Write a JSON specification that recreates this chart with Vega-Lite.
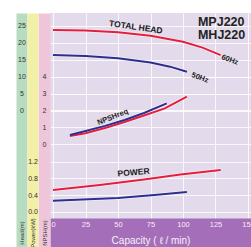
{
  "$schema": "https://vega.github.io/schema/vega-lite/v6.json",
  "autosize": {"type": "none"},
  "padding": {"left": 50, "top": 13, "right": 0, "bottom": 0},
  "width": 201,
  "height": 234,
  "background": "white",
  "config": {
    "view": {"fill": "#e3daeb", "stroke": null},
    "font": "Liberation Sans",
    "axis": {"ticks": false, "labelFontSize": 7, "titleFontWeight": "normal"},
    "axisLeft": {"labelColor": "#333333"},
    "axisBottom": {"labelColor": "#f4ecf6", "titleColor": "#f7f0f9"}
  },
  "datasets": {
    "head": [
      {"q": 0, "head": 23.7, "hz": "60Hz"}, {"q": 25, "head": 23.5, "hz": "60Hz"}, {"q": 50, "head": 23.0, "hz": "60Hz"}, {"q": 75, "head": 22.0, "hz": "60Hz"}, {"q": 100, "head": 20.2, "hz": "60Hz"}, {"q": 115, "head": 18.5, "hz": "60Hz"}, {"q": 129, "head": 16.3, "hz": "60Hz"},
      {"q": 0, "head": 16.3, "hz": "50Hz"}, {"q": 25, "head": 16.0, "hz": "50Hz"}, {"q": 50, "head": 15.4, "hz": "50Hz"}, {"q": 75, "head": 14.1, "hz": "50Hz"}, {"q": 90, "head": 12.9, "hz": "50Hz"}, {"q": 103, "head": 11.4, "hz": "50Hz"}
    ],
    "npsh": [
      {"q": 13, "npsh": 0.48, "hz": "60Hz"}, {"q": 25, "npsh": 0.64, "hz": "60Hz"}, {"q": 40, "npsh": 0.95, "hz": "60Hz"}, {"q": 55, "npsh": 1.31, "hz": "60Hz"}, {"q": 70, "npsh": 1.7, "hz": "60Hz"}, {"q": 86, "npsh": 2.12, "hz": "60Hz"}, {"q": 103, "npsh": 2.82, "hz": "60Hz"},
      {"q": 13, "npsh": 0.54, "hz": "50Hz"}, {"q": 25, "npsh": 0.77, "hz": "50Hz"}, {"q": 40, "npsh": 1.08, "hz": "50Hz"}, {"q": 55, "npsh": 1.43, "hz": "50Hz"}, {"q": 70, "npsh": 1.85, "hz": "50Hz"}, {"q": 87.5, "npsh": 2.42, "hz": "50Hz"}
    ],
    "power": [
      {"q": 0, "power": 0.52, "hz": "60Hz"}, {"q": 36, "power": 0.64, "hz": "60Hz"}, {"q": 70, "power": 0.77, "hz": "60Hz"}, {"q": 98, "power": 0.89, "hz": "60Hz"}, {"q": 129, "power": 1.0, "hz": "60Hz"},
      {"q": 0, "power": 0.26, "hz": "50Hz"}, {"q": 50, "power": 0.33, "hz": "50Hz"}, {"q": 78, "power": 0.40, "hz": "50Hz"}, {"q": 103, "power": 0.47, "hz": "50Hz"}
    ]
  },
  "layer": [
    {
      "data": {"name": "head"},
      "mark": {"type": "line", "color": "white", "strokeWidth": 3.5, "opacity": 0.6},
      "encoding": {
        "detail": {"field": "hz"},
        "x": {"field": "q", "type": "quantitative", "scale": {"domain": [-2.31, 152.31], "nice": false, "zero": false},
          "axis": {"orient": "bottom", "offset": -14.5, "values": [0, 25, 50, 75, 100, 125, 150], "domainColor": "#a46fb8", "domainWidth": 29,
            "labels": false, "title": null, "grid": true, "gridColor": "white", "gridOpacity": 0.8}},
        "y": {"field": "head", "type": "quantitative", "scale": {"domain": [-40.15, 28.68], "nice": false, "zero": false},
          "axis": {"orient": "left", "offset": 28.5, "domainColor": "#b8dcc1", "domainWidth": 11, "labels": false, "title": null, "grid": false}}
      }
    },
    {
      "data": {"name": "npsh"},
      "mark": {"type": "line", "color": "white", "strokeWidth": 3.5, "opacity": 0.6},
      "encoding": {
        "detail": {"field": "hz"},
        "x": {"field": "q", "type": "quantitative", "scale": {"domain": [-2.31, 152.31], "nice": false, "zero": false}, "axis": null},
        "y": {"field": "npsh", "type": "quantitative", "scale": {"domain": [-6.13, 7.8], "nice": false, "zero": false},
          "axis": {"orient": "left", "offset": 6, "domainColor": "#efc5da", "domainWidth": 12, "labels": false, "title": null, "grid": false}}
      }
    },
    {
      "data": {"name": "power"},
      "mark": {"type": "line", "color": "white", "strokeWidth": 3.5, "opacity": 0.6},
      "encoding": {
        "detail": {"field": "hz"},
        "x": {"field": "q", "type": "quantitative", "scale": {"domain": [-2.31, 152.31], "nice": false, "zero": false}, "axis": null},
        "y": {"field": "power", "type": "quantitative", "scale": {"domain": [-0.847, 4.765], "nice": false, "zero": false},
          "axis": {"orient": "left", "offset": 17.5, "domainColor": "#f2efa6", "domainWidth": 11, "labels": false, "title": null, "grid": false}}
      }
    },
    {
      "encoding": {
        "x": {"field": "q", "type": "quantitative", "scale": {"domain": [-2.31, 152.31], "nice": false, "zero": false},
          "axis": {"orient": "bottom", "offset": -14.5, "values": [0, 25, 50, 75, 100, 125, 150], "domain": false, "grid": false,
            "labelPadding": -12, "labelColor": "#f4ecf6", "labelFontSize": 7.5, "labelFlush": false,
            "title": "Capacity ( ℓ / min)", "titleFontSize": 10, "titleColor": "#f7f0f9", "titleY": 7.5, "titleBaseline": "middle"}},
        "y": {
          "field": "head", "type": "quantitative",
          "scale": {"domain": [-40.15, 28.68], "nice": false, "zero": false},
          "axis": {
            "orient": "left", "offset": 28.5, "values": [0, 5, 10, 15, 20, 25], "domain": false,
            "labelAlign": "center", "labelPadding": 0, "labelBaseline": "middle",
            "grid": true, "gridColor": "white", "gridOpacity": 0.8,
            "title": "Head(m)", "titleAngle": 270, "titleX": 0, "titleY": 219.5, "titleAlign": "center", "titleBaseline": "middle",
            "titleFontSize": 6, "titleColor": "#333333"
          }
        }
      },
      "layer": [
        {"data": {"name": "head"}, "mark": {"type": "line", "strokeWidth": 2},
         "encoding": {"color": {"field": "hz", "type": "nominal", "scale": {"domain": ["60Hz", "50Hz"], "range": ["#e51e3e", "#2d2e8f"]}, "legend": null}}},
        {"data": {"values": [{"q": 63.8, "head": 24.6, "t": "TOTAL HEAD"}]}, "mark": {"type": "text", "angle": 8, "fontSize": 8.5, "fontWeight": "bold", "color": "#1a1a1a"}, "encoding": {"text": {"field": "t"}}},
        {"data": {"values": [{"q": 136, "head": 14.85, "t": "60Hz"}, {"q": 113, "head": 9.6, "t": "50Hz"}]}, "mark": {"type": "text", "angle": 20, "fontSize": 7.5, "fontWeight": "bold", "color": "#1a1a1a"}, "encoding": {"text": {"field": "t"}}},
        {"data": {"values": [{"q": 111.5, "head": 26.1, "t": "MPJ220"}, {"q": 111.5, "head": 22.3, "t": "MHJ220"}]}, "mark": {"type": "text", "align": "left", "baseline": "middle", "fontSize": 12.5, "fontWeight": "bold", "color": "#222222"}, "encoding": {"text": {"field": "t"}}}
      ]
    },
    {
      "encoding": {
        "x": {"field": "q", "type": "quantitative", "scale": {"domain": [-2.31, 152.31], "nice": false, "zero": false}, "axis": null},
        "y": {
          "field": "npsh", "type": "quantitative",
          "scale": {"domain": [-6.13, 7.8], "nice": false, "zero": false},
          "axis": {
            "orient": "left", "offset": 6, "values": [0, 1, 2, 3, 4], "domain": false,
            "labelAlign": "center", "labelPadding": 0, "labelBaseline": "middle",
            "grid": true, "gridColor": "white", "gridOpacity": 0.8,
            "title": "NPSH(m)", "titleAngle": 270, "titleX": 0, "titleY": 219.5, "titleAlign": "center", "titleBaseline": "middle",
            "titleFontSize": 6, "titleColor": "#333333"
          }
        }
      },
      "layer": [
        {"data": {"name": "npsh"}, "mark": {"type": "line", "strokeWidth": 2},
         "encoding": {"color": {"field": "hz", "type": "nominal", "scale": {"domain": ["60Hz", "50Hz"], "range": ["#e51e3e", "#2d2e8f"]}, "legend": null}}},
        {"data": {"values": [{"q": 46, "npsh": 1.6, "t": "NPSHreq"}]}, "mark": {"type": "text", "angle": -22, "fontSize": 7.5, "fontWeight": "bold", "color": "#1a1a1a"}, "encoding": {"text": {"field": "t"}}}
      ]
    },
    {
      "encoding": {
        "x": {"field": "q", "type": "quantitative", "scale": {"domain": [-2.31, 152.31], "nice": false, "zero": false}, "axis": null},
        "y": {
          "field": "power", "type": "quantitative",
          "scale": {"domain": [-0.847, 4.765], "nice": false, "zero": false},
          "axis": {
            "orient": "left", "offset": 17.5, "values": [0, 0.4, 0.8, 1.2], "format": ".1f", "domain": false,
            "labelAlign": "center", "labelPadding": 0, "labelBaseline": "middle",
            "grid": true, "gridColor": "white", "gridOpacity": 0.8,
            "title": "Power(kW)", "titleAngle": 270, "titleX": 0, "titleY": 219.5, "titleAlign": "center", "titleBaseline": "middle",
            "titleFontSize": 6, "titleColor": "#333333"
          }
        }
      },
      "layer": [
        {"data": {"name": "power"}, "mark": {"type": "line", "strokeWidth": 2},
         "encoding": {"color": {"field": "hz", "type": "nominal", "scale": {"domain": ["60Hz", "50Hz"], "range": ["#e51e3e", "#2d2e8f"]}, "legend": null}}},
        {"data": {"values": [{"q": 62, "power": 0.95, "t": "POWER"}]}, "mark": {"type": "text", "angle": -5, "fontSize": 8.5, "fontWeight": "bold", "color": "#1a1a1a"}, "encoding": {"text": {"field": "t"}}}
      ]
    }
  ],
  "resolve": {"scale": {"x": "independent", "y": "independent"}, "axis": {"x": "independent", "y": "independent"}}
}
